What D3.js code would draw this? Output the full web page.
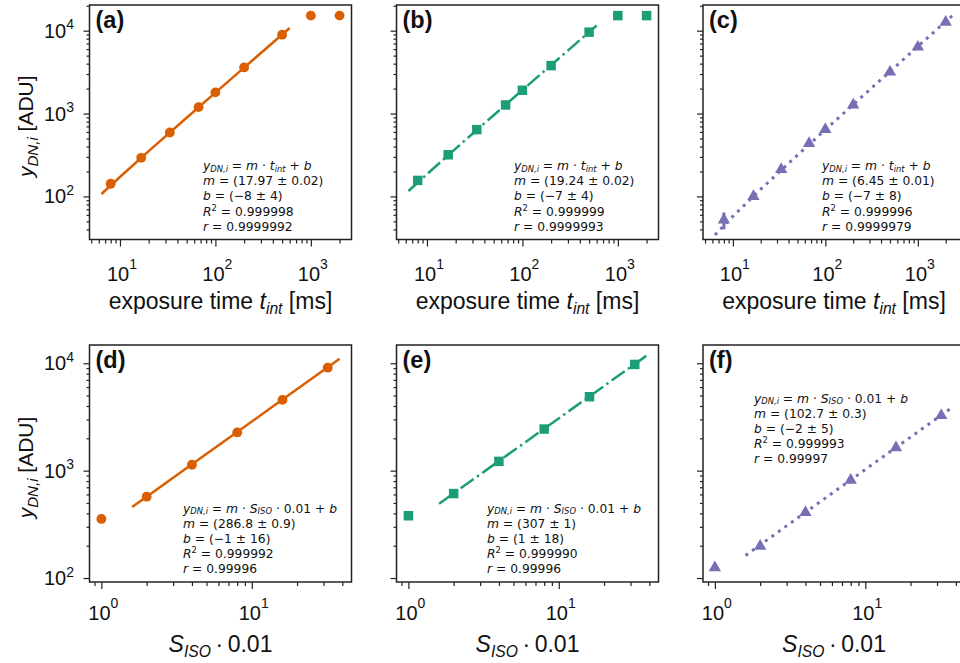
<!DOCTYPE html>
<html lang="en">
  <head>
    <meta charset="utf-8">
    <title>linearity</title>
    <style>
      html,
      body {
        margin: 0;
        background: #fff;
      }

      svg {
        display: block;
      }

      text {
        white-space: pre;
      }
    </style>
    <script src="https://d3js.org/d3.v7.min.js"></script>
  </head>
  <body>
    <svg width="960" height="663"></svg>

    <script>
      // exposure times (ms) and gain steps S_ISO * 0.01
      var tExp = [8, 16.7, 33.3, 66.7, 100, 200, 500, 1000, 2000];
      var isoStep = [1, 2, 4, 8, 16, 32];

      // mean signal per step (ADU)
      var yA = [142, 292, 591, 1195, 1800, 3600, 8950, 15200, 15200];
      var yB = [156, 318, 640, 1270, 1910, 3790, 9600, 15200, 15200];
      var yC = [52, 100, 212, 437, 645, 1270, 3170, 6350, 12700];
      var errC = [12, 7, 0, 0, 0, 0, 0, 0, 0];
      var yD = [355, 572, 1135, 2270, 4560, 9100];
      var yE = [380, 612, 1220, 2440, 4880, 9750];
      var yF = [125, 198, 408, 815, 1640, 3260];

      // fit results shown in the panels
      var fitM = [17.97, 19.24, 6.45, 286.8, 307, 102.7];
      var fitB = [-8, -7, -7, -1, 1, -2];
      var fitXTime = [6.4, 10, 20, 50, 100, 200, 600];
      var fitXTimeC = [6.4, 10, 20, 50, 100, 200, 500, 1000, 2400];
      var fitXIso = [1.6, 2, 4, 8, 16, 38.4];

      var mText = ['(17.97 \u00b1 0.02)', '(19.24 \u00b1 0.02)', '(6.45 \u00b1 0.01)',
        '(286.8 \u00b1 0.9)', '(307 \u00b1 1)', '(102.7 \u00b1 0.3)'];
      var bText = ['(\u22128 \u00b1 4)', '(\u22127 \u00b1 4)', '(\u22127 \u00b1 8)',
        '(\u22121 \u00b1 16)', '(1 \u00b1 18)', '(\u22122 \u00b1 5)'];
      var r2Text = ['0.999998', '0.999999', '0.999996', '0.999992', '0.999990', '0.999993'];
      var rText = ['0.9999992', '0.9999993', '0.9999979', '0.99996', '0.99996', '0.99997'];
      var panelTags = ['(a)', '(b)', '(c)', '(d)', '(e)', '(f)'];

      var orange = '#d95f02', green = '#1b9e77', purple = '#7570b3';
      var sans = '"Liberation Sans", Arial, sans-serif';
      var mathFont = '"DejaVu Sans", sans-serif';

      var svg = d3.select('svg');

      var colX = [89.5, 396.5, 703];
      var rowY = [[5, 239.5], [345, 582]];
      var pw = 262;

      var panels = [
        { x: tExp, y: yA, fitX: fitXTime, color: orange, mark: 'circle', dash: null, row: 0, col: 0, xd: [0.681, 3.426], note: [203, 170] },
        { x: tExp, y: yB, fitX: fitXTime, color: green, mark: 'square', dash: '16,4,2.5,4', row: 0, col: 1, xd: [0.681, 3.426], note: [514, 170] },
        { x: tExp, y: yC, err: errC, fitX: fitXTimeC, color: purple, mark: 'triangle', dash: '3,5', row: 0, col: 2, xd: [0.677, 3.51], note: [822, 170] },
        { x: isoStep, y: yD, fitX: fitXIso, color: orange, mark: 'circle', dash: null, row: 1, col: 0, xd: [-0.079, 1.663], note: [183, 512.5] },
        { x: isoStep, y: yE, fitX: fitXIso, color: green, mark: 'square', dash: '16,4,2.5,4', row: 1, col: 1, xd: [-0.079, 1.663], note: [487, 512.5] },
        { x: isoStep, y: yF, fitX: fitXIso, color: purple, mark: 'triangle', dash: '3,5', row: 1, col: 2, xd: [-0.079, 1.663], note: [754, 402.5] }
      ];
      var yDomains = [[1.48, 4.31], [1.963, 4.17]];

      // one <text>, several lines, each with italic / sub / superscript pieces
      function rich(g, x, y, lines, size, family, anchor, opts) {
        opts = opts || {};
        var subShift = opts.sub != null ? opts.sub : 0.25 * size;
        var supShift = opts.sup != null ? opts.sup : 0.42 * size;
        var scale = opts.scale || 0.7;
        var lh = opts.lh || size * 1.2;
        var t = g.append('text')
          .attr('x', x).attr('y', y)
          .attr('font-size', size)
          .attr('font-family', family)
          .attr('fill', '#111')
          .attr('text-anchor', anchor || 'start');
        var shift = 0;
        lines.forEach(function(segs, li) {
          segs.forEach(function(s, si) {
            var target = s.sub ? subShift : s.sup ? -supShift : 0;
            var sp = t.append('tspan').text(s.t);
            if (li > 0 && si === 0) {
              sp.attr('x', x).attr('dy', lh + target - shift);
            } else {
              sp.attr('dy', target - shift);
            }
            if (s.sub || s.sup) sp.attr('font-size', size * scale);
            if (s.i) sp.attr('font-style', 'italic');
            shift = target;
          });
        });
        return t;
      }

      function minorTicks(lo, hi) {
        var out = [];
        for (var e = Math.floor(lo); e <= Math.ceil(hi); e++) {
          for (var k = 2; k <= 9; k++) {
            var v = k * Math.pow(10, e);
            if (Math.log10(v) >= lo && Math.log10(v) <= hi) out.push(v);
          }
        }
        return out;
      }

      function majorTicks(lo, hi) {
        return d3.range(Math.ceil(lo), Math.floor(hi) + 1);
      }

      panels.forEach(function(p, i) {
        var left = colX[p.col], top = rowY[p.row][0], bottom = rowY[p.row][1];
        var yd = yDomains[p.row];
        var x = d3.scaleLog().domain([Math.pow(10, p.xd[0]), Math.pow(10, p.xd[1])]).range([left, left + pw]);
        var y = d3.scaleLog().domain([Math.pow(10, yd[0]), Math.pow(10, yd[1])]).range([bottom, top]);
        var g = svg.append('g');

        // ticks
        var xMaj = majorTicks(p.xd[0], p.xd[1]).map(function(e) { return Math.pow(10, e); });
        var yMaj = majorTicks(yd[0], yd[1]).map(function(e) { return Math.pow(10, e); });
        [[d3.axisBottom(x).tickValues(minorTicks(p.xd[0], p.xd[1])).tickSize(4), 'b'],
         [d3.axisBottom(x).tickValues(xMaj).tickSize(7), 'b'],
         [d3.axisLeft(y).tickValues(minorTicks(yd[0], yd[1])).tickSize(3), 'l'],
         [d3.axisLeft(y).tickValues(yMaj).tickSize(6), 'l']].forEach(function(a) {
          var ax = g.append('g')
            .attr('transform', a[1] === 'b' ? 'translate(0,' + bottom + ')' : 'translate(' + left + ',0)')
            .call(a[0].tickFormat('').tickSizeOuter(0));
          ax.select('.domain').remove();
          ax.selectAll('line').attr('stroke', '#222').attr('stroke-width', 1.2);
        });

        // tick labels
        var xLab = p.row === 0 ? bottom + 41.5 : bottom + 38;
        xMaj.forEach(function(v) {
          rich(g, x(v) + 2, xLab, [[{ t: '10' }, { t: String(Math.round(Math.log10(v))), sup: 1 }]],
            20, sans, 'middle', { sup: 12.5 });
        });
        if (p.col === 0) {
          yMaj.forEach(function(v) {
            rich(g, left - 15.5, y(v) + 7, [[{ t: '10' }, { t: String(Math.round(Math.log10(v))), sup: 1 }]],
              20, sans, 'end', { sup: 8.5 });
          });
          var yl = rich(g, 0, 0, [[{ t: 'y', i: 1 }, { t: 'DN,i', i: 1, sub: 1 }, { t: ' [ADU]' }]], 21, sans, 'middle',
            { sub: 5, scale: 0.72 });
          yl.attr('transform', 'translate(33,' + ((top + bottom) / 2 + 4) + ') rotate(-90)');
        }

        // axis title
        var titleSegs = p.row === 0
          ? [{ t: 'exposure time ' }, { t: 't', i: 1 }, { t: 'int', i: 1, sub: 1 }, { t: ' [ms]' }]
          : [{ t: 'S', i: 1 }, { t: 'ISO', i: 1, sub: 1 }, { t: '\u2009\u00b7\u2009' }, { t: '0.01' }];
        rich(g, left + pw / 2, bottom + 69.5, [titleSegs], 23, sans, 'middle', { sub: 5, scale: 0.68 });

        // fit line
        var fitPts = p.fitX.map(function(v) { return [v, fitM[i] * v + fitB[i]]; });
        g.append('path')
          .datum(fitPts)
          .attr('fill', 'none')
          .attr('stroke', p.color)
          .attr('stroke-width', p.mark === 'triangle' ? 3 : 2.5)
          .attr('stroke-dasharray', p.dash)
          .attr('d', d3.line().x(function(d) { return x(d[0]); }).y(function(d) { return y(d[1]); }));

        // error bars
        if (p.err) {
          p.err.forEach(function(e, k) {
            if (!e) return;
            g.append('line')
              .attr('x1', x(p.x[k])).attr('x2', x(p.x[k]))
              .attr('y1', y(p.y[k] - e)).attr('y2', y(p.y[k] + e))
              .attr('stroke', p.color).attr('stroke-width', 3);
          });
        }

        // markers
        var sym = p.mark === 'circle' ? d3.symbolCircle : p.mark === 'square' ? d3.symbolSquare : d3.symbolTriangle;
        var size = p.mark === 'circle' ? 76 : p.mark === 'square' ? 90 : 66;
        g.selectAll('path.pt')
          .data(p.x.map(function(v, k) { return [v, p.y[k]]; }))
          .enter().append('path')
          .attr('class', 'pt')
          .attr('transform', function(d) { return 'translate(' + x(d[0]) + ',' + y(d[1]) + ')'; })
          .attr('d', d3.symbol().type(sym).size(size))
          .attr('fill', p.color);

        // frame
        g.append('rect')
          .attr('x', left).attr('y', top)
          .attr('width', pw).attr('height', bottom - top)
          .attr('fill', 'none')
          .attr('stroke', '#222')
          .attr('stroke-width', 1.5);

        // panel tag
        g.append('text')
          .attr('x', left + 6).attr('y', top + 23)
          .attr('font-family', sans)
          .attr('font-weight', 'bold')
          .attr('font-size', 23.5)
          .attr('fill', '#111')
          .text(panelTags[i]);

        // fit annotation
        var first = p.row === 0
          ? [{ t: 'y', i: 1 }, { t: 'DN,i', i: 1, sub: 1 }, { t: ' = ' }, { t: 'm', i: 1 }, { t: ' \u00b7 ' }, { t: 't', i: 1 }, { t: 'int', i: 1, sub: 1 }, { t: ' + ' }, { t: 'b', i: 1 }]
          : [{ t: 'y', i: 1 }, { t: 'DN,i', i: 1, sub: 1 }, { t: ' = ' }, { t: 'm', i: 1 }, { t: ' \u00b7 ' }, { t: 'S', i: 1 }, { t: 'ISO', i: 1, sub: 1 }, { t: ' \u00b7 0.01 + ' }, { t: 'b', i: 1 }];
        var lines = [
          first,
          [{ t: 'm', i: 1 }, { t: ' = ' + mText[i] }],
          [{ t: 'b', i: 1 }, { t: ' = ' + bText[i] }],
          [{ t: 'R', i: 1 }, { t: '2', sup: 1 }, { t: ' = ' + r2Text[i] }],
          [{ t: 'r', i: 1 }, { t: ' = ' + rText[i] }]
        ];
        rich(g, p.note[0], p.note[1], lines, 12.3, mathFont, 'start', { sub: 1.6, sup: 5, lh: 15.2, scale: 0.68 });
      });
    </script>
  </body>
</html>
